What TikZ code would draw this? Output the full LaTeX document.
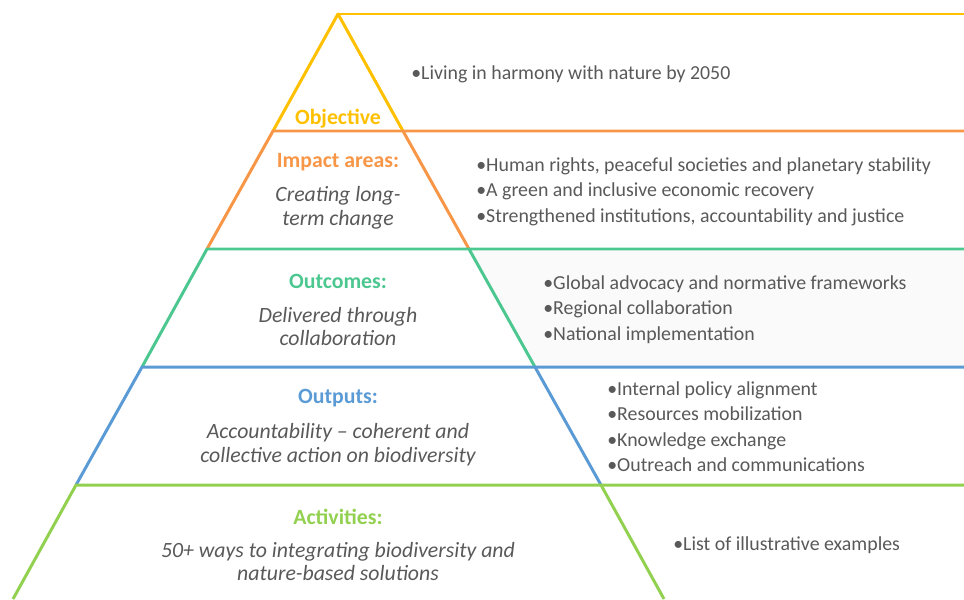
\documentclass[tikz,border=0pt]{standalone}
\usepackage{fontspec}
\setmainfont{Carlito}
\usepackage{tikz}
\usetikzlibrary{positioning}
\definecolor{objcol}{HTML}{FFC000}
\definecolor{impcol}{HTML}{F79646}
\definecolor{outccol}{HTML}{4CC790}
\definecolor{outpcol}{HTML}{5B9BD5}
\definecolor{actcol}{HTML}{92D050}
\definecolor{txtcol}{HTML}{595959}
\definecolor{shadecol}{HTML}{FAFAFA}

\begin{document}
\begin{tikzpicture}[x=0.02cm, y=-0.02cm,
    band/.style={line width=1.7pt, line join=round},
    title/.style={font=\fontsize{12.4}{14}\selectfont\bfseries},
    sub/.style={font=\fontsize{12.4}{13.6}\selectfont\itshape, text=txtcol, align=center},
    items/.style={font=\fontsize{11.3}{14.5}\selectfont, text=txtcol, align=left, anchor=west, inner sep=0pt}]
    \useasboundingbox (0,0) rectangle (964,599);
    %corners of the pyramid, left and right
    \coordinate (apex) at (338,14);
    \coordinate (l1) at (273,131); \coordinate (r1) at (403,131);
    \coordinate (l2) at (207,249); \coordinate (r2) at (469,249);
    \coordinate (l3) at (142,367); \coordinate (r3) at (535,367);
    \coordinate (l4) at (76,485);  \coordinate (r4) at (601,485);
    \coordinate (l5) at (13,599);  \coordinate (r5) at (664,599);
    %ends of the lines on the right
    \coordinate (e0) at (964,14);
    \coordinate (e1) at (964,131);
    \coordinate (e2) at (964,249);
    \coordinate (e3) at (964,367);
    \coordinate (e4) at (964,485);
    %light shade behind the outcomes list
    \fill [shadecol] (r2) -- (e2) -- (e3) -- (r3) -- cycle;
    %draws the bands
    \draw [band, objcol] (l1) -- (apex) -- (r1);
    \draw [band, objcol] (apex) -- (e0);
    \draw [band, impcol] (l2) -- (l1) -- (e1);
    \draw [band, impcol] (r1) -- (r2);
    \draw [band, outccol] (l3) -- (l2) -- (e2);
    \draw [band, outccol] (r2) -- (r3);
    \draw [band, outpcol] (l4) -- (l3) -- (e3);
    \draw [band, outpcol] (r3) -- (r4);
    \draw [band, actcol] (l5) -- (l4) -- (e4);
    \draw [band, actcol] (r4) -- (r5);
    %labels inside the pyramid
    \node (obj) [title, text=objcol] at (338,118.5) {Objective};
    \node (imp) [title, text=impcol] at (338,162.5) {Impact areas:};
    \node (impsub) [sub] at (338,208) {Creating long-\\term change};
    \node (outc) [title, text=outccol] at (338,281.5) {Outcomes:};
    \node (outcsub) [sub] at (338,326.5) {Delivered through\\collaboration};
    \node (outp) [title, text=outpcol] at (338,398.5) {Outputs:};
    \node (outpsub) [sub] at (338,444.5) {Accountability -- coherent and\\collective action on biodiversity};
    \node (act) [title, text=actcol] at (338,516.5) {Activities:};
    \node (actsub) [sub] at (338,561.5) {50+ ways to integrating biodiversity and\\nature-based solutions};
    %lists on the right
    \node (objlist) [items] at (411,74) {\textbullet Living in harmony with nature by 2050};
    \node (implist) [items] at (476,191.5) {\textbullet Human rights, peaceful societies and planetary stability\\\textbullet A green and inclusive economic recovery\\\textbullet Strengthened institutions, accountability and justice};
    \node (outclist) [items] at (543,309.5) {\textbullet Global advocacy and normative frameworks\\\textbullet Regional collaboration\\\textbullet National implementation};
    \node (outplist) [items] at (607,426.5) {\textbullet Internal policy alignment\\\textbullet Resources mobilization\\\textbullet Knowledge exchange\\\textbullet Outreach and communications};
    \node (actlist) [items] at (673,545) {\textbullet List of illustrative examples};
\end{tikzpicture}
\end{document}
